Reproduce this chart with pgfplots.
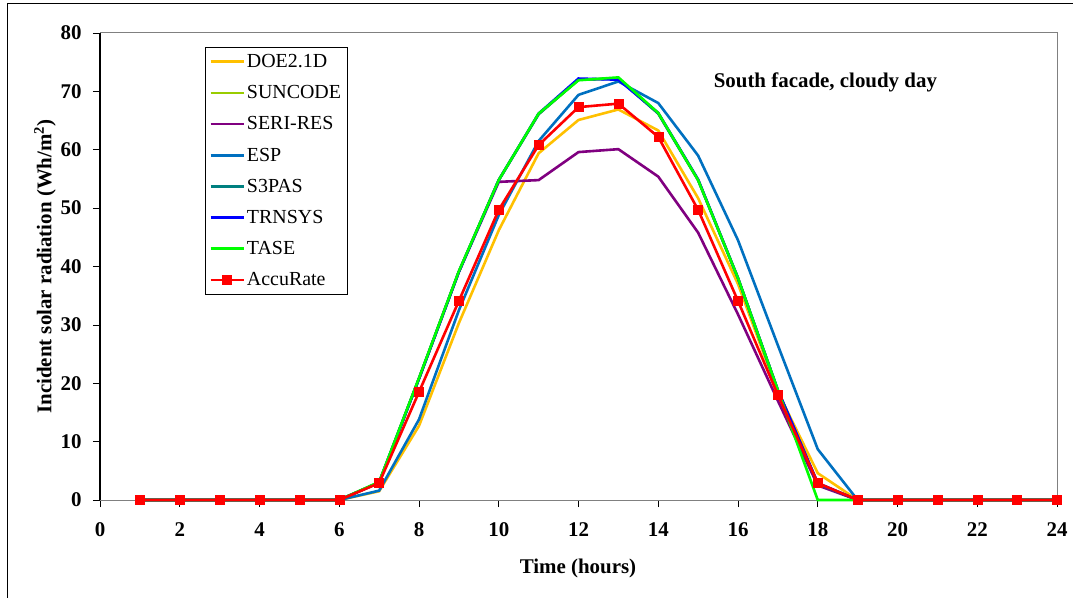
\documentclass[border=0pt]{standalone}
\usepackage{fontspec}
\setmainfont{Liberation Serif}
\usepackage{pgfplots}
\pgfplotsset{compat=1.18}
\usepackage{pgfplotstable}
\definecolor{doe}{HTML}{FFC000}
\definecolor{sun}{HTML}{99CC00}
\definecolor{seri}{HTML}{800080}
\definecolor{esp}{HTML}{0070C0}
\definecolor{s3p}{HTML}{008080}
\definecolor{trn}{HTML}{0000FF}
\definecolor{tase}{HTML}{00FF00}
\definecolor{acc}{HTML}{FF0000}
\pgfplotstableread{
h doe sun seri esp s3p trn tase acc
1 0 0 0 0 0 0 0 0
2 0 0 0 0 0 0 0 0
3 0 0 0 0 0 0 0 0
4 0 0 0 0 0 0 0 0
5 0 0 0 0 0 0 0 0
6 0 0 0 0 0 0 0 0
7 1.5 3.0 3.0 1.6 3.0 3.0 3.1 2.9
8 12.7 20.8 20.8 13.8 20.8 20.8 20.9 18.5
9 30.3 39.1 39.1 32.5 39.1 39.1 39.2 34.1
10 46.2 54.8 54.5 48.8 54.8 54.8 54.8 49.7
11 59.4 66.1 54.8 61.5 66.1 66.2 66.2 60.8
12 65.1 72.0 59.6 69.4 72.0 72.2 71.9 67.3
13 66.9 72.2 60.1 71.7 72.2 72.0 72.4 67.9
14 63.3 66.2 55.4 68.0 66.2 66.3 66.3 62.2
15 51.7 54.8 45.8 59.0 54.8 54.9 54.8 49.7
16 37.0 38.0 31.8 44.5 38.0 38.0 38.0 34.1
17 18.5 18.8 17.0 26.5 18.8 18.8 18.8 18.0
18 4.6 2.8 2.5 8.7 2.8 2.9 0 2.9
19 0 0 0 0 0 0 0 0
20 0 0 0 0 0 0 0 0
21 0 0 0 0 0 0 0 0
22 0 0 0 0 0 0 0 0
23 0 0 0 0 0 0 0 0
24 0 0 0 0 0 0 0 0
}\data
\begin{document}
\begin{tikzpicture}
\begin{axis}[name=ax, at={(0,0)}, anchor=south west,
  scale only axis, width=957bp, height=467bp,
  xmin=0, xmax=24, ymin=0, ymax=80,
  xtick={0,2,...,24}, ytick={0,10,...,80},
  xtick pos=bottom, ytick pos=left,
  tick align=outside, major tick length=7bp,
  tick style={black, line width=0.7bp},
  axis line style={draw=gray, line width=1bp},
  /pgf/number format/assume math mode=true,
  ticklabel style={font=\fontsize{21}{24}\selectfont\bfseries},
  xticklabel style={yshift=-12bp},
  yticklabel style={xshift=-8bp},
  xlabel={Time (hours)},
  ylabel={Incident solar radiation (Wh/m\textsuperscript{2})},
  label style={font=\fontsize{21}{24}\selectfont\bfseries},
  xlabel style={at={(axis description cs:0.4995,-0.1456)}, anchor=center},
  ylabel style={at={(axis description cs:-0.0575,0.5)}, anchor=center},
  every axis plot/.append style={line width=2.6bp},
  legend style={at={(rel axis cs:0.1097,0.970)}, anchor=north west,
    draw=black, line width=0.8bp, fill=white,
    font=\fontsize{20}{22}\selectfont, row sep=12.5bp,
    inner xsep=4bp, inner ysep=5bp},
  legend cell align=left,
  legend image code/.code={\draw[mark repeat=2,mark phase=2,#1, line width=2.6bp] plot coordinates {(0bp,0bp) (16.5bp,0bp) (33bp,0bp)};},
  clip=false,
]
\addplot[doe, no markers] table[x=h,y=doe]{\data};
\addlegendentry{DOE2.1D}
\addplot[sun, no markers] table[x=h,y=sun]{\data};
\addlegendentry{SUNCODE}
\addplot[seri, no markers] table[x=h,y=seri]{\data};
\addlegendentry{SERI-RES}
\addplot[esp, no markers] table[x=h,y=esp]{\data};
\addlegendentry{ESP}
\addplot[s3p, no markers] table[x=h,y=s3p]{\data};
\addlegendentry{S3PAS}
\addplot[trn, no markers] table[x=h,y=trn]{\data};
\addlegendentry{TRNSYS}
\addplot[tase, no markers] table[x=h,y=tase]{\data};
\addlegendentry{TASE}
\addplot[acc, mark=square*, mark size=4.5bp, mark options={fill=acc, draw=acc, line width=0.5bp}] table[x=h,y=acc]{\data};
\addlegendentry{AccuRate}
\node[font=\fontsize{21}{24}\selectfont\bfseries] at (rel axis cs:0.758,0.895) {South facade, cloudy day};
\draw[black, line width=1.2bp] (rel axis cs:0,0) -- (rel axis cs:0,1);
\end{axis}
\draw[black, line width=0.9bp] (-93bp,-98bp) -- (-93bp,497bp) -- (973bp,497bp);
\pgfresetboundingbox
\path (-100bp,-98bp) rectangle (973bp,500bp);
\end{tikzpicture}
\end{document}
